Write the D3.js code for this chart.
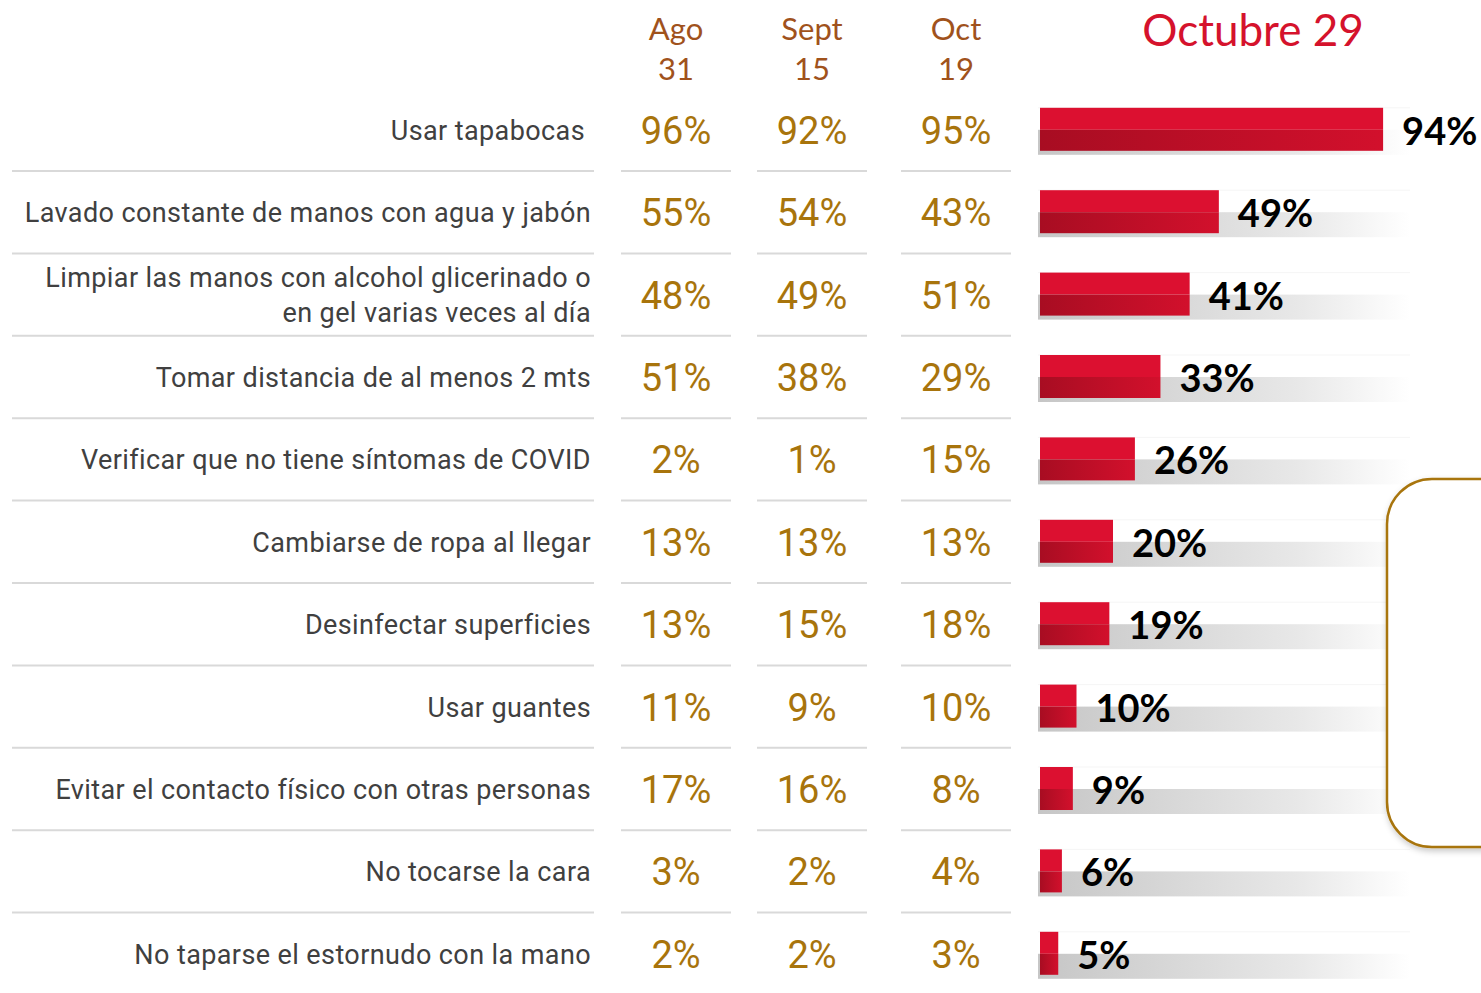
<!DOCTYPE html>
<html>
<head>
<meta charset="utf-8">
<script src="https://cdn.jsdelivr.net/npm/d3@7"></script>
<style>
  body { margin: 0; background: #fff; }
  svg { display: block; }
</style>
</head>
<body>
<div id="chart"></div>
<script>
// medidas de prevencion, serie por fecha
var labels = [
  ["Usar tapabocas"],
  ["Lavado constante de manos con agua y jabón"],
  ["Limpiar las manos con alcohol glicerinado o", "en gel varias veces al día"],
  ["Tomar distancia de al menos 2 mts"],
  ["Verificar que no tiene síntomas de COVID"],
  ["Cambiarse de ropa al llegar"],
  ["Desinfectar superficies"],
  ["Usar guantes"],
  ["Evitar el contacto físico con otras personas"],
  ["No tocarse la cara"],
  ["No taparse el estornudo con la mano"]
];
var colHeads = [["Ago", "31"], ["Sept", "15"], ["Oct", "19"]];
var ago31 = [96, 55, 48, 51, 2, 13, 13, 11, 17, 3, 2];
var sept15 = [92, 54, 49, 38, 1, 13, 15, 9, 16, 2, 2];
var oct19 = [95, 43, 51, 29, 15, 13, 18, 10, 8, 4, 3];
var oct29 = [94, 49, 41, 33, 26, 20, 19, 10, 9, 6, 5];
var mainTitle = "Octubre 29";

var W = 1481, H = 993;
var svg = d3.select("#chart").append("svg").attr("width", W).attr("height", H);
var defs = svg.append("defs");

var lg = defs.append("linearGradient").attr("id", "barDark");
lg.append("stop").attr("offset", "0%").attr("stop-color", "#a80d22");
lg.append("stop").attr("offset", "100%").attr("stop-color", "#d2102c");
var gg = defs.append("linearGradient").attr("id", "shadeBand");
gg.append("stop").attr("offset", "0%").attr("stop-color", "#c6c6c6");
gg.append("stop").attr("offset", "70%").attr("stop-color", "#e8e8e8");
gg.append("stop").attr("offset", "100%").attr("stop-color", "#ffffff");
var fl = defs.append("filter").attr("id", "boxShadow").attr("x", "-10%").attr("y", "-10%").attr("width", "130%").attr("height", "130%");
fl.append("feDropShadow").attr("dx", 1).attr("dy", 3).attr("stdDeviation", 3).attr("flood-color", "#000").attr("flood-opacity", 0.22);

var idx = d3.range(labels.length);
var y = d3.scaleBand().domain(idx).range([88.6, 88.6 + 82.4 * labels.length]).padding(0);
var x = d3.scaleLinear().domain([0, 100]).range([1040, 1040 + 365]);
var colXs = [676, 812, 956];
var series = [ago31, sept15, oct19];

var cy = function (i) { return y(i) + y.bandwidth() / 2; };

// encabezados
colHeads.forEach(function (h, j) {
  var t = svg.append("text").attr("x", colXs[j]).attr("text-anchor", "middle")
    .style("font-family", "Lato, 'Open Sans', sans-serif").style("font-size", "31px").style("fill", "#a0521c");
  t.append("tspan").attr("x", colXs[j]).attr("y", 40).text(h[0]);
  t.append("tspan").attr("x", colXs[j]).attr("y", 80).text(h[1]);
});
svg.append("text").attr("x", 1253).attr("y", 46).attr("text-anchor", "middle")
  .style("font-family", "Lato, 'Open Sans', sans-serif").style("font-size", "44px").style("fill", "#d5122c")
  .text(mainTitle);

// separadores
var seps = idx.slice(0, idx.length - 1);
svg.selectAll(".sepL").data(seps).enter().append("line")
  .attr("x1", 12).attr("x2", 594)
  .attr("y1", function (i) { return y(i) + y.bandwidth(); })
  .attr("y2", function (i) { return y(i) + y.bandwidth(); })
  .style("stroke", "#d9d9d9").style("stroke-width", 2);
colXs.forEach(function (cx) {
  svg.selectAll(null).data(seps).enter().append("line")
    .attr("x1", cx - 55).attr("x2", cx + 55)
    .attr("y1", function (i) { return y(i) + y.bandwidth(); })
    .attr("y2", function (i) { return y(i) + y.bandwidth(); })
    .style("stroke", "#d9d9d9").style("stroke-width", 2);
});

// etiquetas de filas
idx.forEach(function (i) {
  var lines = labels[i];
  var t = svg.append("text").attr("text-anchor", "end")
    .style("font-family", "Roboto, 'Open Sans', sans-serif").style("font-size", "27px")
    .style("letter-spacing", "0.4px").style("fill", "#404040");
  var x0 = i === 0 ? 585 : 591;
  if (lines.length === 1) {
    t.append("tspan").attr("x", x0).attr("y", cy(i) + 10).text(lines[0]);
  } else {
    t.append("tspan").attr("x", x0).attr("y", cy(i) - 8).text(lines[0]);
    t.append("tspan").attr("x", x0).attr("y", cy(i) + 27).text(lines[1]);
  }
});

// valores de la tabla
series.forEach(function (s, j) {
  svg.selectAll(null).data(s).enter().append("text")
    .attr("x", colXs[j]).attr("y", function (d, i) { return cy(i) + 14; })
    .attr("text-anchor", "middle")
    .style("font-family", "Roboto, 'Open Sans', sans-serif").style("font-size", "38px").style("fill", "#a8740c")
    .text(function (d) { return d + "%"; });
});

// barras octubre 29
var bars = svg.selectAll(".bar").data(oct29).enter().append("g").attr("class", "bar");
bars.append("line")
  .attr("x1", x(0) - 2).attr("x2", x(0) + 370)
  .attr("y1", function (d, i) { return cy(i) - 22; })
  .attr("y2", function (d, i) { return cy(i) - 22; })
  .style("stroke", "#f5f5f5").style("stroke-width", 1);
bars.append("rect")
  .attr("x", x(0) - 2).attr("width", 372)
  .attr("y", function (d, i) { return cy(i); }).attr("height", 25)
  .style("fill", "url(#shadeBand)");
bars.append("rect")
  .attr("x", x(0)).attr("width", function (d) { return x(d) - x(0); })
  .attr("y", function (d, i) { return cy(i) - 22; }).attr("height", 22)
  .style("fill", "#dc1030");
bars.append("rect")
  .attr("x", x(0)).attr("width", function (d) { return x(d) - x(0); })
  .attr("y", function (d, i) { return cy(i); }).attr("height", 21)
  .style("fill", "url(#barDark)");
bars.append("text")
  .attr("x", function (d) { return x(d) + 19; })
  .attr("y", function (d, i) { return cy(i) + 15; })
  .style("font-family", "Lato, 'Open Sans', sans-serif").style("font-weight", "bold").style("font-size", "38px").style("fill", "#000")
  .text(function (d) { return d + "%"; });

// recuadro a la derecha
svg.append("rect").attr("x", 1387).attr("y", 479).attr("width", 200).attr("height", 368).attr("rx", 45)
  .style("fill", "#fff").style("stroke", "#a8740c").style("stroke-width", 2.5)
  .attr("filter", "url(#boxShadow)");
</script>
</body>
</html>
